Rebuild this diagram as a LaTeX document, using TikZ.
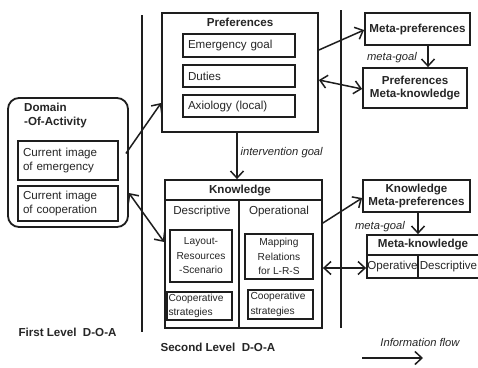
\documentclass[tikz,border=0pt]{standalone}
\usepackage{fontspec}
\setmainfont{Liberation Sans}
\usetikzlibrary{arrows.meta}
\definecolor{ink}{HTML}{1E1E1E}
\definecolor{txt}{HTML}{262626}
\begin{document}
\begin{tikzpicture}[x=1pt,y=-1pt,
  font=\fontsize{11.6}{14}\selectfont,
  box/.style={draw=ink,line width=1.8pt,inner sep=0pt,text=txt,align=center},
  lbox/.style={box,align=left,inner xsep=5pt},
  small/.style={font=\fontsize{10.2}{14.5}\selectfont},
  ttl/.style={font=\bfseries\fontsize{11.6}{13.5}\selectfont,text=txt},
  lab/.style={font=\itshape\fontsize{11.2}{13}\selectfont,text=txt},
  sepline/.style={draw=ink,line width=2.8pt},
  divline/.style={draw=ink,line width=1.8pt},
  tip/.tip={Straight Barb[length=7pt,width=13pt]},
  arr/.style={draw=ink,line width=1.5pt,-tip},
  darr/.style={draw=ink,line width=1.5pt,tip-tip}]
\useasboundingbox (0,0) rectangle (478,367);
\fill[white] (0,0) rectangle (478,367);

% separators
\coordinate (s1a) at (142,15); \coordinate (s1b) at (142,332);
\coordinate (s2a) at (341,10); \coordinate (s2b) at (341,328);
\draw[sepline] (s1a) -- (s1b);
\draw[sepline] (s2a) -- (s2b);

% Domain of activity
\node[box,rounded corners=11pt,minimum width=120pt,minimum height=129pt] (doa) at (68,162.5) {};
\node[ttl,align=left,anchor=north west,inner sep=0pt] (doat) at (24,103) {Domain\\-Of-Activity};
\node[lbox,text width=90pt,minimum height=39pt] (cie) at (68,160.5) {Current image\\of emergency};
\node[lbox,text width=90pt,minimum height=35pt] (cic) at (68,203.5) {Current image\\of cooperation};

% Preferences
\node[box,minimum width=156pt,minimum height=119pt] (pref) at (240,72.5) {};
\node[ttl] (preft) at (240,22) {Preferences};
\node[lbox,text width=102pt,minimum height=23pt] (eg) at (239,45.5) {Emergency goal};
\node[lbox,text width=102pt,minimum height=22pt] (dut) at (239,76) {Duties};
\node[lbox,text width=102pt,minimum height=22pt] (axi) at (239,106) {Axiology (local)};

% Knowledge
\node[box,minimum width=157pt,minimum height=148pt] (know) at (243.5,254) {};
\node[ttl] (knowt) at (240,190.5) {Knowledge};
\coordinate (kb1) at (165,200); \coordinate (kb2) at (322,200);
\draw[divline] (kb1) -- (kb2);
\coordinate (kd1) at (239,200); \coordinate (kd2) at (239,328);
\draw[divline] (kd1) -- (kd2);
\node[text=txt] (desc) at (202,211) {Descriptive};
\node[text=txt] (oper) at (279,211) {Operational};
\node[box,small,minimum width=62pt,minimum height=52pt] (lrs) at (201,256) {Layout-\\Resources\\-Scenario};
\node[box,small,align=left,inner xsep=1.5pt,text width=62pt,minimum height=28pt] (cs1) at (199.5,306) {Cooperative\\strategies};
\node[box,small,minimum width=68pt,minimum height=45pt] (map) at (279,256.5) {Mapping\\Relations\\for L-R-S};
\node[box,small,align=left,inner xsep=2.5pt,text width=60pt,minimum height=29pt] (cs2) at (280.5,304.5) {Cooperative\\strategies};

% Right column
\node[box,font=\bfseries\fontsize{11.6}{13.5}\selectfont,minimum width=105pt,minimum height=32pt] (mp) at (417.5,29) {Meta-preferences};
\node[box,font=\bfseries\fontsize{11.6}{13.5}\selectfont,minimum width=104pt,minimum height=40pt] (pmk) at (415,88) {Preferences\\Meta-knowledge};
\node[box,font=\bfseries\fontsize{11.6}{13.5}\selectfont,minimum width=107pt,minimum height=32pt] (kmp) at (416.5,196) {Knowledge\\Meta-preferences};
\node[box,font=\bfseries\fontsize{11.6}{13.5}\selectfont,minimum width=112pt,minimum height=20pt] (mk) at (423,245) {Meta-knowledge};
\node[box,minimum width=51pt,minimum height=23pt] (opc) at (392.5,266.5) {Operative};
\node[box,minimum width=61pt,minimum height=23pt] (dsc) at (448.5,266.5) {Descriptive};

% connectors
\draw[arr] ([xshift=7pt,yshift=7pt]cie.east) -- ([yshift=-30.5pt]pref.west);
\draw[arr] ([yshift=22.5pt]pref.east) -- ([yshift=-1pt]mp.west);
\draw[darr] ([yshift=-7.5pt]pref.east) -- ([yshift=-1pt]pmk.west);
\draw[arr] ([xshift=-3pt]pref.south) -- ([xshift=-3pt]pref.south |- know.north);
\node[lab,anchor=west] (ig) at (237,153) {intervention goal};
\draw[darr] ([xshift=10pt,yshift=10.5pt]cic.east) -- ([yshift=12pt]know.west);
\draw[arr] ([yshift=31pt]know.east) -- ([yshift=-2pt]kmp.west);
\draw[darr] ([yshift=-14pt]know.east) -- ([yshift=-1.5pt]opc.west);
\draw[arr] ([xshift=10.5pt]mp.south) -- ([xshift=10.5pt]mp.south |- pmk.north);
\node[lab] (mg1) at (392,58) {meta-goal};
\draw[arr] ([xshift=1.5pt]kmp.south) -- ([xshift=1.5pt]kmp.south |- mk.north);
\node[lab] (mg2) at (380,227) {meta-goal};

% level labels
\node[ttl,anchor=west] (fl) at (15,332) {First Level\ \ D-O-A};
\node[ttl,anchor=west] (sl) at (157,347) {Second Level\ \ D-O-A};

% legend
\node[lab] (inf) at (420,342) {Information flow};
\coordinate (if1) at (362,358); \coordinate (if2) at (423,358);
\draw[arr] (if1) -- (if2);
\end{tikzpicture}
\end{document}
